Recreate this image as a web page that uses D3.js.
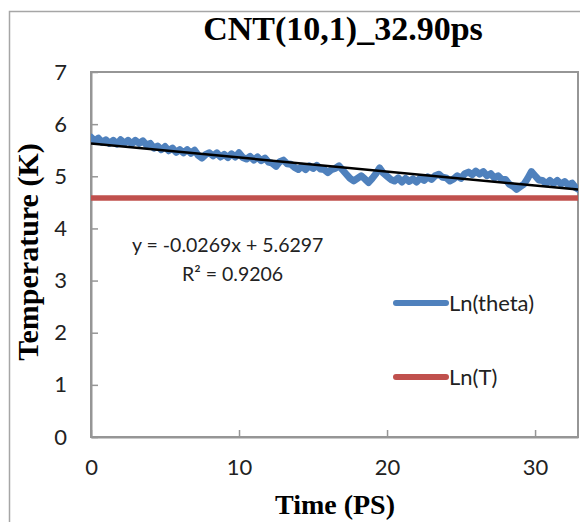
<!DOCTYPE html>
<html>
<head>
<meta charset="utf-8">
<script src="https://cdn.jsdelivr.net/npm/d3@7"></script>
<style>
  body { margin: 0; background: #fff; }
  svg { display: block; }
</style>
</head>
<body>
<div id="chart"></div>
<script>
// data
const chartTitle = "CNT(10,1)_32.90ps"
const xTicks = [0, 10, 20, 30]
const yTicks = [0, 1, 2, 3, 4, 5, 6, 7]
const timeStep = 0.25   // ps between samples of Ln(theta)
const lnTheta = [
  5.75, 5.68, 5.73, 5.65, 5.70, 5.63, 5.69, 5.62, 5.70, 5.63, 5.69, 5.62, 5.69, 5.63, 5.68, 5.60,
  5.63, 5.54, 5.58, 5.51, 5.57, 5.49, 5.54, 5.46, 5.51, 5.45, 5.51, 5.44, 5.50, 5.40, 5.35, 5.42,
  5.45, 5.39, 5.45, 5.37, 5.42, 5.36, 5.43, 5.37, 5.45, 5.36, 5.33, 5.38, 5.31, 5.37, 5.30, 5.35,
  5.27, 5.25, 5.19, 5.28, 5.31, 5.24, 5.23, 5.17, 5.13, 5.19, 5.13, 5.20, 5.15, 5.21, 5.14, 5.13,
  5.07, 5.13, 5.15, 5.20, 5.12, 5.04, 4.96, 4.91, 4.96, 5.01, 4.95, 4.88, 4.96, 5.05, 5.16, 5.06,
  5.00, 4.94, 4.91, 4.97, 4.89, 4.96, 4.90, 4.95, 4.89, 4.97, 4.92, 4.99, 4.94, 5.01, 5.04, 4.98,
  4.97, 4.91, 4.95, 5.01, 4.96, 5.05, 5.08, 5.03, 5.10, 5.04, 5.09, 5.01, 5.05, 4.97, 5.01, 4.94,
  4.94, 4.85, 4.81, 4.75, 4.80, 4.85, 4.96, 5.09, 5.01, 4.93, 4.92, 4.86, 4.92, 4.86, 4.92, 4.85,
  4.90, 4.83, 4.87, 4.78, 4.74
]
const lnT = 4.585
const trendSlope = -0.0269
const trendIntercept = 5.6297
const eqLines = ["y = -0.0269x + 5.6297", "R² = 0.9206"]
const legendNames = ["Ln(theta)", "Ln(T)"]
const seriesColors = ["#4F81BD", "#C0504D"]

const W = 580, H = 522
const margin = {top: 72, right: 2, bottom: 85, left: 91}
const width = W - margin.left - margin.right
const height = H - margin.top - margin.bottom

const sansFont = "Lato, 'Open Sans', sans-serif"
const serifFont = "'Liberation Serif', 'Times New Roman', serif"

const svg = d3.select("#chart").append("svg")
    .attr("width", W)
    .attr("height", H)

// outer chart border
svg.append("rect")
    .attr("x", 9.5).attr("y", 11.5)
    .attr("width", W).attr("height", H)
    .attr("fill", "none")
    .attr("stroke", "#a6a6a6")
    .attr("stroke-width", 1.5)

const g = svg.append("g")
    .attr("transform", "translate(" + margin.left + "," + margin.top + ")")

const x_scale = d3.scaleLinear().domain([0, 32.9]).range([0, width])
const y_scale = d3.scaleLinear().domain([0, 7]).range([height, 0])

// plot area frame
g.append("rect")
    .attr("width", width).attr("height", height)
    .attr("fill", "none")
    .attr("stroke", "#969696")
    .attr("stroke-width", 2)

const xaxis = g.append("g")
    .attr("class", "axis")
    .attr("transform", "translate(0," + height + ")")
    .call(d3.axisBottom(x_scale).tickValues(xTicks).tickFormat(d3.format("d"))
      .tickSizeInner(-7).tickSizeOuter(0).tickPadding(22))

const yaxis = g.append("g")
    .attr("class", "axis")
    .call(d3.axisLeft(y_scale).tickValues(yTicks).tickFormat(d3.format("d"))
      .tickSizeInner(-7).tickSizeOuter(0).tickPadding(24))

g.selectAll(".axis path").attr("stroke", "#969696").attr("stroke-width", 2)
g.selectAll(".axis line").attr("stroke", "#969696").attr("stroke-width", 1.5)
g.selectAll(".axis text")
    .attr("font-family", sansFont)
    .attr("font-size", 22)
    .attr("fill", "#222")

g.append("defs").append("clipPath")
    .attr("id", "clip")
    .append("rect")
    .attr("width", width).attr("height", height)

const plot = g.append("g").attr("clip-path", "url(#clip)")

const line = d3.line()
    .x(d => x_scale(d.time))
    .y(d => y_scale(d.value))

const thetaData = lnTheta.map((v, i) => ({time: i * timeStep, value: v}))

plot.append("path")
    .datum(thetaData)
    .attr("d", line)
    .attr("fill", "none")
    .attr("stroke", seriesColors[0])
    .attr("stroke-width", 7)
    .attr("stroke-linejoin", "round")
    .attr("stroke-linecap", "round")

plot.append("path")
    .datum([{time: 0, value: lnT}, {time: 32.9, value: lnT}])
    .attr("d", line)
    .attr("fill", "none")
    .attr("stroke", seriesColors[1])
    .attr("stroke-width", 5.5)

// linear trendline
plot.append("path")
    .datum([0, 32.9].map(t => ({time: t, value: trendIntercept + trendSlope * t})))
    .attr("d", line)
    .attr("fill", "none")
    .attr("stroke", "#000")
    .attr("stroke-width", 2.5)

// trend equation
const eq = svg.append("text")
    .attr("font-family", sansFont)
    .attr("font-size", 19.5)
    .attr("fill", "#222")
eq.append("tspan").attr("x", 132).attr("y", 252).text(eqLines[0])
eq.append("tspan").attr("x", 182).attr("y", 281).text(eqLines[1])

// legend
const legend = svg.append("g").attr("transform", "translate(396,303)")
legendNames.forEach((name, i) => {
  const row = legend.append("g").attr("transform", "translate(0," + (i * 74) + ")")
  row.append("line")
      .attr("x1", 0).attr("x2", 50)
      .attr("stroke", seriesColors[i])
      .attr("stroke-width", 6)
      .attr("stroke-linecap", "round")
  row.append("text")
      .attr("x", 53).attr("y", 8)
      .attr("font-family", sansFont)
      .attr("font-size", 22)
      .attr("fill", "#222")
      .text(name)
})

// titles
svg.append("text")
    .attr("x", 343).attr("y", 40)
    .attr("text-anchor", "middle")
    .attr("font-family", serifFont)
    .attr("font-weight", "bold")
    .attr("font-size", 34)
    .text(chartTitle)

svg.append("text")
    .attr("x", 335).attr("y", 514)
    .attr("text-anchor", "middle")
    .attr("font-family", serifFont)
    .attr("font-weight", "bold")
    .attr("font-size", 28)
    .text("Time (PS)")

svg.append("text")
    .attr("transform", "translate(38,252) rotate(-90)")
    .attr("text-anchor", "middle")
    .attr("font-family", serifFont)
    .attr("font-weight", "bold")
    .attr("font-size", 30)
    .text("Temperature (K)")
</script>
</body>
</html>
